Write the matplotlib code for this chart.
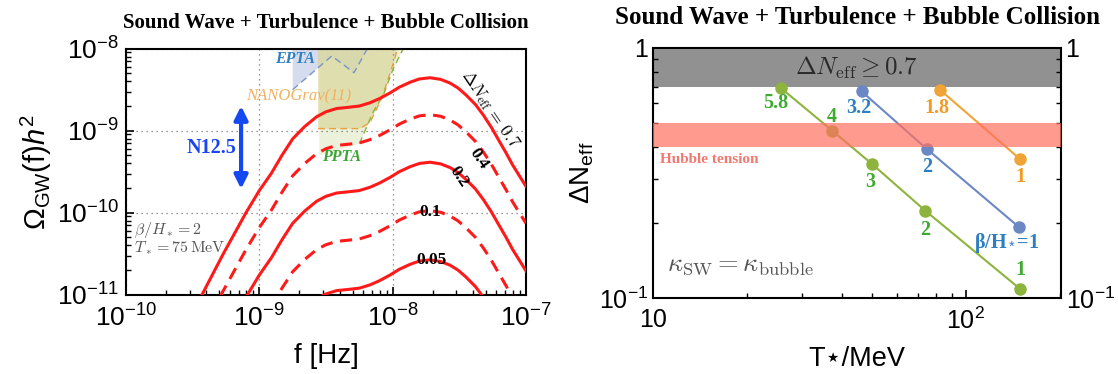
import numpy as np
import matplotlib
matplotlib.use("Agg")
import matplotlib.pyplot as plt
from matplotlib.ticker import FixedLocator, FixedFormatter, LogLocator, NullFormatter

plt.rcParams['font.family'] = ['Liberation Sans', 'DejaVu Sans']
plt.rcParams['mathtext.fontset'] = 'custom'
plt.rcParams['mathtext.rm'] = 'Liberation Sans'
plt.rcParams['mathtext.it'] = 'Liberation Sans:italic'
plt.rcParams['mathtext.bf'] = 'Liberation Sans:bold'

# ---- left panel: GW spectra, log10 values ----
log_f = [-9.43, -9.27, -9.10, -9.00, -8.91, -8.83, -8.75, -8.66, -8.57, -8.50, -8.42,
         -8.33, -8.25, -8.17, -8.10, -8.02, -7.95, -7.87, -7.80, -7.72, -7.64, -7.57,
         -7.51, -7.45, -7.38, -7.32, -7.26, -7.20, -7.15, -7.10, -7.05, -7.00]
log_om_07 = [-11.00, -10.50, -10.00, -9.73, -9.52, -9.30, -9.10, -8.95, -8.83, -8.77, -8.73,
             -8.715, -8.70, -8.66, -8.61, -8.54, -8.47, -8.41, -8.37, -8.355, -8.375, -8.42,
             -8.48, -8.565, -8.68, -8.81, -8.96, -9.13, -9.27, -9.42, -9.55, -9.68]
log_om_04 = [-11.45, -10.95, -10.45, -10.18, -9.97, -9.75, -9.55, -9.40, -9.28, -9.22, -9.18,
             -9.165, -9.15, -9.11, -9.06, -8.99, -8.92, -8.86, -8.82, -8.805, -8.825, -8.87,
             -8.93, -9.015, -9.13, -9.26, -9.41, -9.58, -9.72, -9.87, -10.00, -10.13]
log_om_02 = [-12.03, -11.53, -11.03, -10.76, -10.55, -10.33, -10.13, -9.98, -9.86, -9.80, -9.76,
             -9.745, -9.73, -9.69, -9.64, -9.57, -9.50, -9.44, -9.40, -9.385, -9.405, -9.45,
             -9.51, -9.595, -9.71, -9.84, -9.99, -10.16, -10.30, -10.45, -10.58, -10.71]
log_om_01 = [-12.62, -12.12, -11.62, -11.35, -11.14, -10.92, -10.72, -10.57, -10.45, -10.39, -10.35,
             -10.335, -10.32, -10.28, -10.23, -10.16, -10.09, -10.03, -9.99, -9.975, -9.995, -10.04,
             -10.10, -10.185, -10.30, -10.43, -10.58, -10.75, -10.89, -11.04, -11.17, -11.30]
log_om_005 = [-13.22, -12.72, -12.22, -11.95, -11.74, -11.52, -11.32, -11.17, -11.05, -10.99, -10.95,
              -10.935, -10.92, -10.88, -10.83, -10.76, -10.69, -10.63, -10.59, -10.575, -10.595, -10.64,
              -10.70, -10.785, -10.90, -11.03, -11.18, -11.35, -11.49, -11.64, -11.77, -11.90]

# PTA regions (log10 f, log10 Omega)
epta_f = [-8.75, -8.75, -8.457, -8.29, -8.19]
epta_om = [-8.0, -8.50, -8.09, -8.293, -8.0]
nano_f = [-8.56, -8.56, -8.245, -8.17, -8.082, -8.032, -7.983, -7.965]
nano_om = [-8.0, -8.975, -8.975, -8.90, -8.605, -8.361, -8.117, -8.0]
ppta_f = [-8.55, -8.55, -8.25, -8.145, -8.07, -7.995, -7.92]
ppta_om = [-8.0, -9.30, -9.16, -8.768, -8.565, -8.24, -8.0]

# ---- right panel: Delta N_eff vs T* ----
T_green = [25.6, 37.4, 50.0, 74.0, 149.0]
dN_green = [0.69, 0.466, 0.344, 0.224, 0.109]
lab_green = ["5.8", "4", "3", "2", "1"]
T_blue = [46.4, 75.0, 148.0]
dN_blue = [0.669, 0.394, 0.192]
lab_blue = ["3.2", "2", "β/H$_*$=1"]
T_orange = [82.6, 149.0]
dN_orange = [0.679, 0.359]
lab_orange = ["1.8", "1"]

fig = plt.figure(figsize=(11.18, 3.74), dpi=100)
ax1 = fig.add_axes([0.1127, 0.212, 0.3578, 0.658])
ax2 = fig.add_axes([0.5843, 0.2024, 0.3645, 0.6701])

red = '#ff1a1a'
f = 10 ** np.array(log_f)
ax1.fill(10 ** np.array(epta_f), 10 ** np.array(epta_om), color='#b9c6e3', alpha=0.6, lw=0, zorder=1)
ax1.fill(10 ** np.array(ppta_f), 10 ** np.array(ppta_om), color='#dfe8c4', alpha=0.6, lw=0, zorder=1)
ax1.fill(10 ** np.array(nano_f), 10 ** np.array(nano_om), color='#d6cf8c', alpha=0.55, lw=0, zorder=1)
ax1.plot(10 ** np.array(epta_f[1:]), 10 ** np.array(epta_om[1:]), color='#7894c8', lw=1, ls=(0, (5, 3)), zorder=2)
ax1.plot(10 ** np.array(nano_f[1:]), 10 ** np.array(nano_om[1:]), color='#eaa23c', lw=1, ls=(0, (5, 3)), zorder=2)
ax1.plot(10 ** np.array(ppta_f[2:]), 10 ** np.array(ppta_om[2:]), color='#8cb43c', lw=1, ls=(0, (5, 3)), zorder=2)

ax1.plot(f, 10 ** np.array(log_om_07), color=red, lw=2.2, zorder=3)
ax1.plot(f, 10 ** np.array(log_om_04), color=red, lw=2.2, ls=(0, (4, 2.5)), zorder=3)
ax1.plot(f, 10 ** np.array(log_om_02), color=red, lw=2.2, zorder=3)
ax1.plot(f, 10 ** np.array(log_om_01), color=red, lw=2.2, ls=(0, (4, 2.5)), zorder=3)
ax1.plot(f, 10 ** np.array(log_om_005), color=red, lw=2.2, zorder=3)

ax1.set_xscale('log')
ax1.set_yscale('log')
ax1.set_xlim(1e-10, 1e-7)
ax1.set_ylim(1e-11, 1e-8)
ax1.grid(which='major', ls=(0, (1, 3)), color='#777777', lw=0.9)
ax1.tick_params(which='both', direction='in', labelsize=19)
ax1.tick_params(axis='x', which='major', pad=7)
ax1.tick_params(axis='y', which='major', pad=5)
ax1.tick_params(which='major', length=6, width=1.2)
ax1.tick_params(which='minor', length=3.5, width=1)
ax1.xaxis.set_major_locator(FixedLocator([1e-10, 1e-9, 1e-8, 1e-7]))
ax1.yaxis.set_major_locator(FixedLocator([1e-11, 1e-10, 1e-9, 1e-8]))
ax1.xaxis.set_major_formatter(FixedFormatter(['$10^{-10}$', '$10^{-9}$', '$10^{-8}$', '$10^{-7}$']))
ax1.yaxis.set_major_formatter(FixedFormatter(['$10^{-11}$', '$10^{-10}$', '$10^{-9}$', '$10^{-8}$']))
ax1.xaxis.set_minor_locator(LogLocator(base=10, subs=np.arange(2, 10)))
ax1.yaxis.set_minor_locator(LogLocator(base=10, subs=np.arange(2, 10)))
ax1.xaxis.set_minor_formatter(NullFormatter())
ax1.yaxis.set_minor_formatter(NullFormatter())
for s in ax1.spines.values():
    s.set_linewidth(1.5)
ax1.set_xlabel('f [Hz]', fontsize=20, labelpad=8)
ax1.set_ylabel(r'$\Omega_{\mathrm{GW}}(\mathrm{f})h^2$', fontsize=21, labelpad=2)
ax1.set_title('Sound Wave + Turbulence + Bubble Collision', family='Liberation Serif',
              fontweight='bold', fontsize=15, pad=15)

ax1.text(10 ** -8.735, 10 ** -8.126, 'EPTA', family='Liberation Serif', style='italic',
         fontweight='bold', color='#2f7fc0', fontsize=11.5, ha='center', va='center', zorder=4)
ax1.text(10 ** -8.708, 10 ** -8.585, 'NANOGrav(11)', family='Liberation Serif', style='italic',
         color='#f2b060', fontsize=12, ha='center', va='center', zorder=4)
ax1.text(10 ** -8.382, 10 ** -9.317, 'PPTA', family='Liberation Serif', style='italic',
         fontweight='bold', color='#3aa632', fontsize=11.5, ha='center', va='center', zorder=4)
ax1.text(10 ** -9.357, 10 ** -9.215, 'N12.5', family='Liberation Serif', fontweight='bold',
         color='#1a46f0', fontsize=14.5, ha='center', va='center', zorder=4)
ax1.annotate('', xy=(10 ** -9.137, 10 ** -8.70), xytext=(10 ** -9.137, 10 ** -9.71),
             arrowprops=dict(arrowstyle='<|-|>', color='#1448f0', lw=3, mutation_scale=20,
                             shrinkA=0, shrinkB=0), zorder=4)
ax1.text(1.15e-10, 10 ** -10.21, r'$\beta/H_* = 2$', math_fontfamily='cm', color='#555555',
         fontsize=11.5, ha='left', va='center')
ax1.text(1.15e-10, 10 ** -10.434, r'$T_* = 75\,\mathrm{MeV}$', math_fontfamily='cm', color='#555555',
         fontsize=11.5, ha='left', va='center')
ax1.text(10 ** -7.265, 10 ** -8.74, r'$\Delta N_{\rm eff}\,=\,$' + r'$\mathbf{0.7}$', math_fontfamily='cm',
         fontsize=12.5, rotation=-56, ha='center', va='center', rotation_mode='anchor')
bold_serif = dict(family='Liberation Serif', fontweight='bold', fontsize=12.5, ha='center', va='center')
ax1.text(10 ** -7.358, 10 ** -9.337, '0.4', rotation=-56, **bold_serif)
ax1.text(10 ** -7.508, 10 ** -9.56, '0.2', rotation=-56, **bold_serif)
ax1.text(10 ** -7.72, 10 ** -9.99, '0.1', **bold_serif)
ax1.text(10 ** -7.71, 10 ** -10.577, '0.05', **bold_serif)

# right panel
ax2.axhspan(0.7, 1.0, color='#919191', zorder=1, lw=0)
ax2.plot(T_green, dN_green, '-o', color='#8db43c', lw=1.5, ms=8, zorder=2)
ax2.plot(T_blue, dN_blue, '-o', color='#6b88c4', lw=1.5, ms=8, zorder=2)
ax2.plot(T_orange, dN_orange, '-o', color='#f0a436', lw=1.5, ms=8, zorder=2)
ax2.axhspan(0.4, 0.5, color='#ff7060', alpha=0.7, zorder=3, lw=0)

ax2.set_xscale('log')
ax2.set_yscale('log')
ax2.set_xlim(10, 201)
ax2.set_ylim(0.1, 1)
ax2.xaxis.set_major_locator(FixedLocator([10, 100]))
ax2.xaxis.set_major_formatter(FixedFormatter(['10', '$10^2$']))
ax2.yaxis.set_major_locator(FixedLocator([0.1, 1]))
ax2.yaxis.set_major_formatter(FixedFormatter(['$10^{-1}$', '1']))
ax2.xaxis.set_minor_locator(LogLocator(base=10, subs=np.arange(2, 10)))
ax2.yaxis.set_minor_locator(LogLocator(base=10, subs=np.arange(2, 10)))
ax2.xaxis.set_minor_formatter(NullFormatter())
ax2.yaxis.set_minor_formatter(NullFormatter())
ax2.tick_params(which='both', direction='in', labelsize=18, right=True, labelright=True)
ax2.tick_params(axis='x', which='major', pad=7)
ax2.tick_params(which='major', length=6, width=1.2)
ax2.tick_params(which='minor', length=3.5, width=1)
for s in ax2.spines.values():
    s.set_linewidth(1.5)
ax2.set_xlabel('T⋆/MeV', fontsize=19.5, labelpad=8, family=['Liberation Sans', 'DejaVu Sans'])
ax2.set_ylabel(r'$\Delta\mathrm{N}_{\mathrm{eff}}$', fontsize=20, labelpad=2)
ax2.set_title('Sound Wave + Turbulence + Bubble Collision', family='Liberation Serif',
              fontweight='bold', fontsize=18, pad=17)

ax2.text(44.5, 0.83, r'$\Delta N_{\rm eff} \geq 0.7$', math_fontfamily='cm', color='#2a2a2a',
         fontsize=18, ha='center', va='center', zorder=4)
ax2.text(10.5, 0.359, 'Hubble tension', family='Liberation Serif', fontweight='bold',
         color='#f07a70', fontsize=11, ha='left', va='center', zorder=4)
ax2.text(11.1, 0.1355, r'$\kappa_{\rm SW} = \kappa_{\rm bubble}$', math_fontfamily='cm',
         color='#555555', fontsize=19, ha='left', va='center', zorder=4)

lab = dict(family='Liberation Serif', fontweight='bold', fontsize=14.5, ha='center', va='center', zorder=4)
green_pos = [(24.6, 0.60), (37.3, 0.531), (49.3, 0.292), (74.0, 0.187), (149.0, 0.130)]
blue_pos = [(45.6, 0.574), (75.0, 0.335), (135.0, 0.166)]
orange_pos = [(81.0, 0.574), (149.0, 0.306)]
for t, (x, y) in zip(lab_green, green_pos):
    ax2.text(x, y, t, color='#3faa30', **lab)
for t, (x, y) in zip(lab_blue, blue_pos):
    ax2.text(x, y, t, color='#2d7fc2', **lab)
for t, (x, y) in zip(lab_orange, orange_pos):
    ax2.text(x, y, t, color='#f29a24', **lab)

fig.savefig('out.png', dpi=100)
